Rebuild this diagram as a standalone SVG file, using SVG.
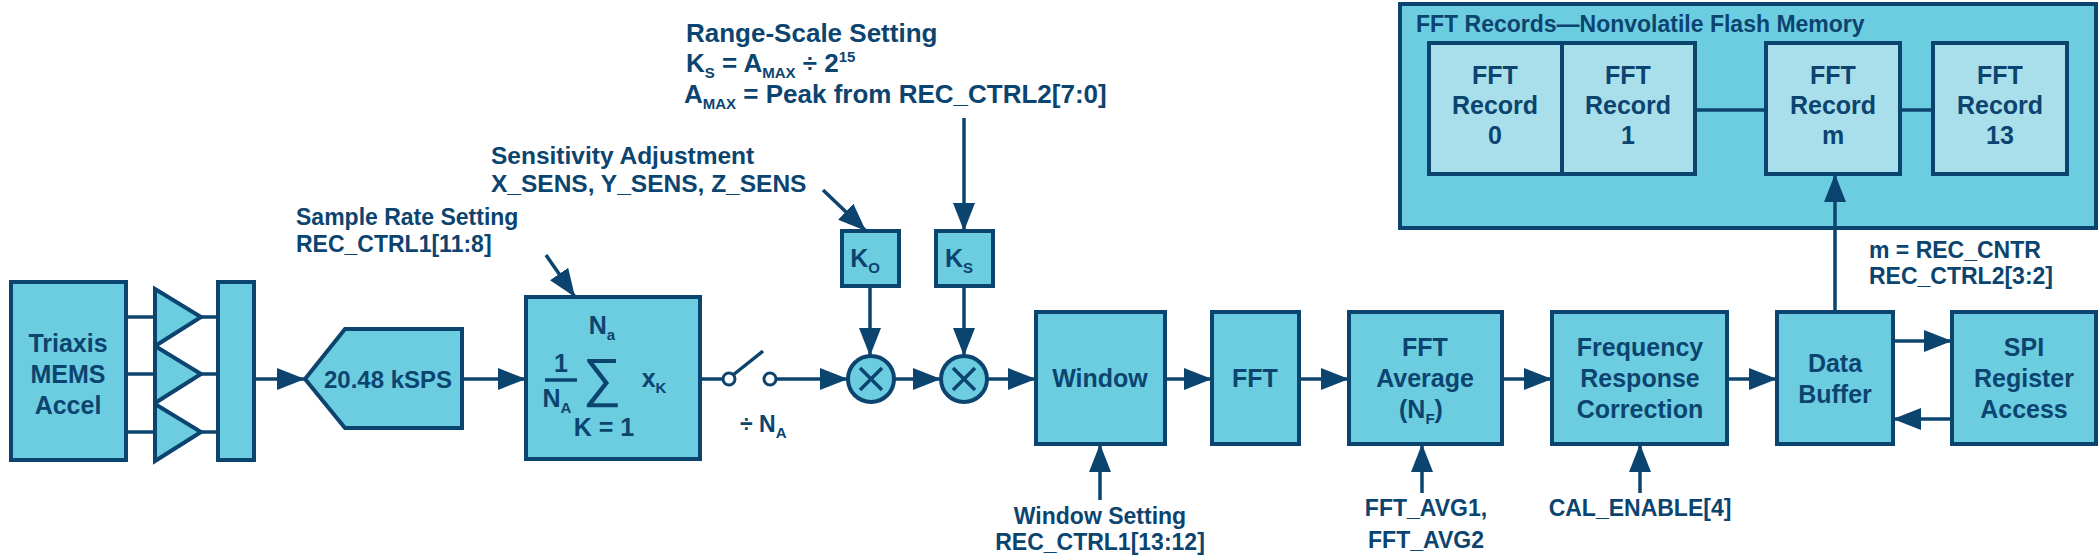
<svg xmlns="http://www.w3.org/2000/svg" width="2098" height="558" viewBox="0 0 2098 558">
<style>
.b{fill:#6dcde0;stroke:#0c4470;stroke-width:4}
.r{fill:#a9dfea;stroke:#0c4470;stroke-width:4}
.l{fill:none;stroke:#0c4470;stroke-width:3.5}
text{font-family:"Liberation Sans",Arial,sans-serif;font-weight:bold;fill:#0c4470;font-size:23px}
.c{text-anchor:middle;font-size:25px}
.w{font-size:26px}
.v{font-size:24.5px}
.s{font-size:15px}
</style>
<defs><marker id="h" markerWidth="28" markerHeight="22" refX="28" refY="11" orient="auto" markerUnits="userSpaceOnUse"><path d="M0,0L28,11L0,22z" fill="#0c4470"/></marker></defs>
<g id="flash"><rect class="b" x="1400" y="4" width="696" height="224"/><text x="1416" y="32">FFT Records—Nonvolatile Flash Memory</text></g>
<g id="rec0"><rect class="r" x="1429" y="43" width="133" height="131"/><text class="c" x="1495" y="84">FFT<tspan x="1495" dy="30">Record</tspan><tspan x="1495" dy="30">0</tspan></text></g>
<g id="rec1"><rect class="r" x="1562" y="43" width="133" height="131"/><text class="c" x="1628" y="84">FFT<tspan x="1628" dy="30">Record</tspan><tspan x="1628" dy="30">1</tspan></text></g>
<g id="recm"><rect class="r" x="1766" y="43" width="134" height="131"/><text class="c" x="1833" y="84">FFT<tspan x="1833" dy="30">Record</tspan><tspan x="1833" dy="30">m</tspan></text></g>
<g id="rec13"><rect class="r" x="1933" y="43" width="134" height="131"/><text class="c" x="2000" y="84">FFT<tspan x="2000" dy="30">Record</tspan><tspan x="2000" dy="30">13</tspan></text></g>
<g id="triaxis"><rect class="b" x="11" y="282" width="115" height="178"/><text class="c" x="68" y="352">Triaxis<tspan x="68" dy="31">MEMS</tspan><tspan x="68" dy="31">Accel</tspan></text></g>
<g id="amps"><path class="b" d="M155,289L201,317L155,346z"/><path class="b" d="M155,346L201,374L155,403z"/><path class="b" d="M155,404L201,432L155,461z"/></g>
<g id="mux"><rect class="b" x="218" y="282" width="36" height="178"/></g>
<g id="ksps"><path class="b" d="M305,379L345,329L462,329L462,428L345,428z"/><text class="c" x="388" y="388" style="font-size:24px">20.48 kSPS</text></g>
<g id="sum"><rect class="b" x="526" y="297" width="174" height="162"/>
<text class="c" x="561" y="372">1</text><line class="l" x1="545" y1="380" x2="577" y2="380"/><text class="c" x="557" y="407">N<tspan class="s" dy="6">A</tspan></text>
<text class="c" x="602" y="334">N<tspan class="s" dy="6">a</tspan></text>
<text x="602" y="396" style="font-size:54px;font-weight:normal;text-anchor:middle">∑</text>
<text class="c" x="654" y="387">x<tspan class="s" dy="6">K</tspan></text>
<text class="c" x="604" y="436">K = 1</text></g>
<g id="switch"><circle cx="729" cy="379" r="6" fill="#fff" stroke="#0c4470" stroke-width="3"/><circle cx="770" cy="379" r="6" fill="#fff" stroke="#0c4470" stroke-width="3"/><line class="l" x1="733" y1="375" x2="763" y2="351"/><text x="740" y="432">÷ N<tspan class="s" dy="6">A</tspan></text></g>
<g id="ko"><rect class="b" x="842" y="231" width="57" height="55"/><text class="c" x="865" y="267">K<tspan class="s" dy="6">O</tspan></text></g>
<g id="ks"><rect class="b" x="936" y="231" width="57" height="55"/><text class="c" x="959" y="267">K<tspan class="s" dy="6">S</tspan></text></g>
<g id="mult1"><circle class="b" cx="871" cy="379" r="23"/><path class="l" d="M860,368L882,390M882,368L860,390"/></g>
<g id="mult2"><circle class="b" cx="964" cy="379" r="23"/><path class="l" d="M953,368L975,390M975,368L953,390"/></g>
<g id="window"><rect class="b" x="1036" y="312" width="129" height="132"/><text class="c" x="1100" y="387">Window</text></g>
<g id="fft"><rect class="b" x="1212" y="312" width="87" height="132"/><text class="c" x="1255" y="387">FFT</text></g>
<g id="avg"><rect class="b" x="1349" y="312" width="153" height="132"/><text class="c" x="1425" y="356">FFT<tspan x="1425" dy="31">Average</tspan><tspan x="1421" dy="31">(N</tspan><tspan class="s" dy="6">F</tspan><tspan dy="-6">)</tspan></text></g>
<g id="freq"><rect class="b" x="1552" y="312" width="175" height="132"/><text class="c" x="1640" y="356">Frequency<tspan x="1640" dy="31">Response</tspan><tspan x="1640" dy="31">Correction</tspan></text></g>
<g id="buffer"><rect class="b" x="1777" y="312" width="116" height="132"/><text class="c" x="1835" y="372">Data<tspan x="1835" dy="31">Buffer</tspan></text></g>
<g id="spi"><rect class="b" x="1952" y="312" width="144" height="132"/><text class="c" x="2024" y="356">SPI<tspan x="2024" dy="31">Register</tspan><tspan x="2024" dy="31">Access</tspan></text></g>
<g id="labels">
<text class="w" x="686" y="42">Range-Scale Setting</text>
<text class="w" x="686" y="72">K<tspan class="s" dy="6">S</tspan><tspan dy="-6"> = A</tspan><tspan class="s" dy="6">MAX</tspan><tspan dy="-6">  ÷ 2</tspan><tspan class="s" dy="-10">15</tspan></text>
<text class="w" x="684" y="103">A<tspan class="s" dy="6">MAX</tspan><tspan dy="-6">  = Peak from REC_CTRL2[7:0]</tspan></text>
<text class="v" x="491" y="164">Sensitivity Adjustment</text>
<text class="v" x="491" y="192">X_SENS, Y_SENS, Z_SENS</text>
<text x="296" y="225">Sample Rate Setting</text>
<text x="296" y="252">REC_CTRL1[11:8]</text>
<text x="1869" y="258">m = REC_CNTR</text>
<text x="1869" y="284">REC_CTRL2[3:2]</text>
<text x="1100" y="524" text-anchor="middle">Window Setting</text>
<text x="1100" y="550" text-anchor="middle">REC_CTRL1[13:12]</text>
<text x="1426" y="516" text-anchor="middle">FFT_AVG1,</text>
<text x="1426" y="548" text-anchor="middle">FFT_AVG2</text>
<text x="1640" y="516" text-anchor="middle">CAL_ENABLE[4]</text>
</g>
<g id="connectors" class="l" fill="none" stroke="#0c4470" stroke-width="3.5">
<path d="M126,317H155M126,374H155M126,432H155M201,317H218M201,374H218M201,432H218"/>
<path d="M254,379H305" marker-end="url(#h)"/>
<path d="M462,379H526" marker-end="url(#h)"/>
<path d="M700,379H723"/>
<path d="M776,379H848" marker-end="url(#h)"/>
<path d="M894,379H941" marker-end="url(#h)"/>
<path d="M987,379H1036" marker-end="url(#h)"/>
<path d="M1165,379H1212" marker-end="url(#h)"/>
<path d="M1299,379H1349" marker-end="url(#h)"/>
<path d="M1502,379H1552" marker-end="url(#h)"/>
<path d="M1727,379H1777" marker-end="url(#h)"/>
<path d="M1893,341H1952" marker-end="url(#h)"/>
<path d="M1952,419H1893" marker-end="url(#h)"/>
<path d="M1835,312V174" marker-end="url(#h)"/>
<path d="M1695,110H1766M1900,110H1933"/>
<path d="M870,286V356" marker-end="url(#h)"/>
<path d="M964,286V356" marker-end="url(#h)"/>
<path d="M964,118V231" marker-end="url(#h)"/>
<path d="M823,190L866,231" marker-end="url(#h)"/>
<path d="M546,255L575,297" marker-end="url(#h)"/>
<path d="M1100,500V444" marker-end="url(#h)"/>
<path d="M1422,493V444" marker-end="url(#h)"/>
<path d="M1640,493V444" marker-end="url(#h)"/>
</g>
</svg>
